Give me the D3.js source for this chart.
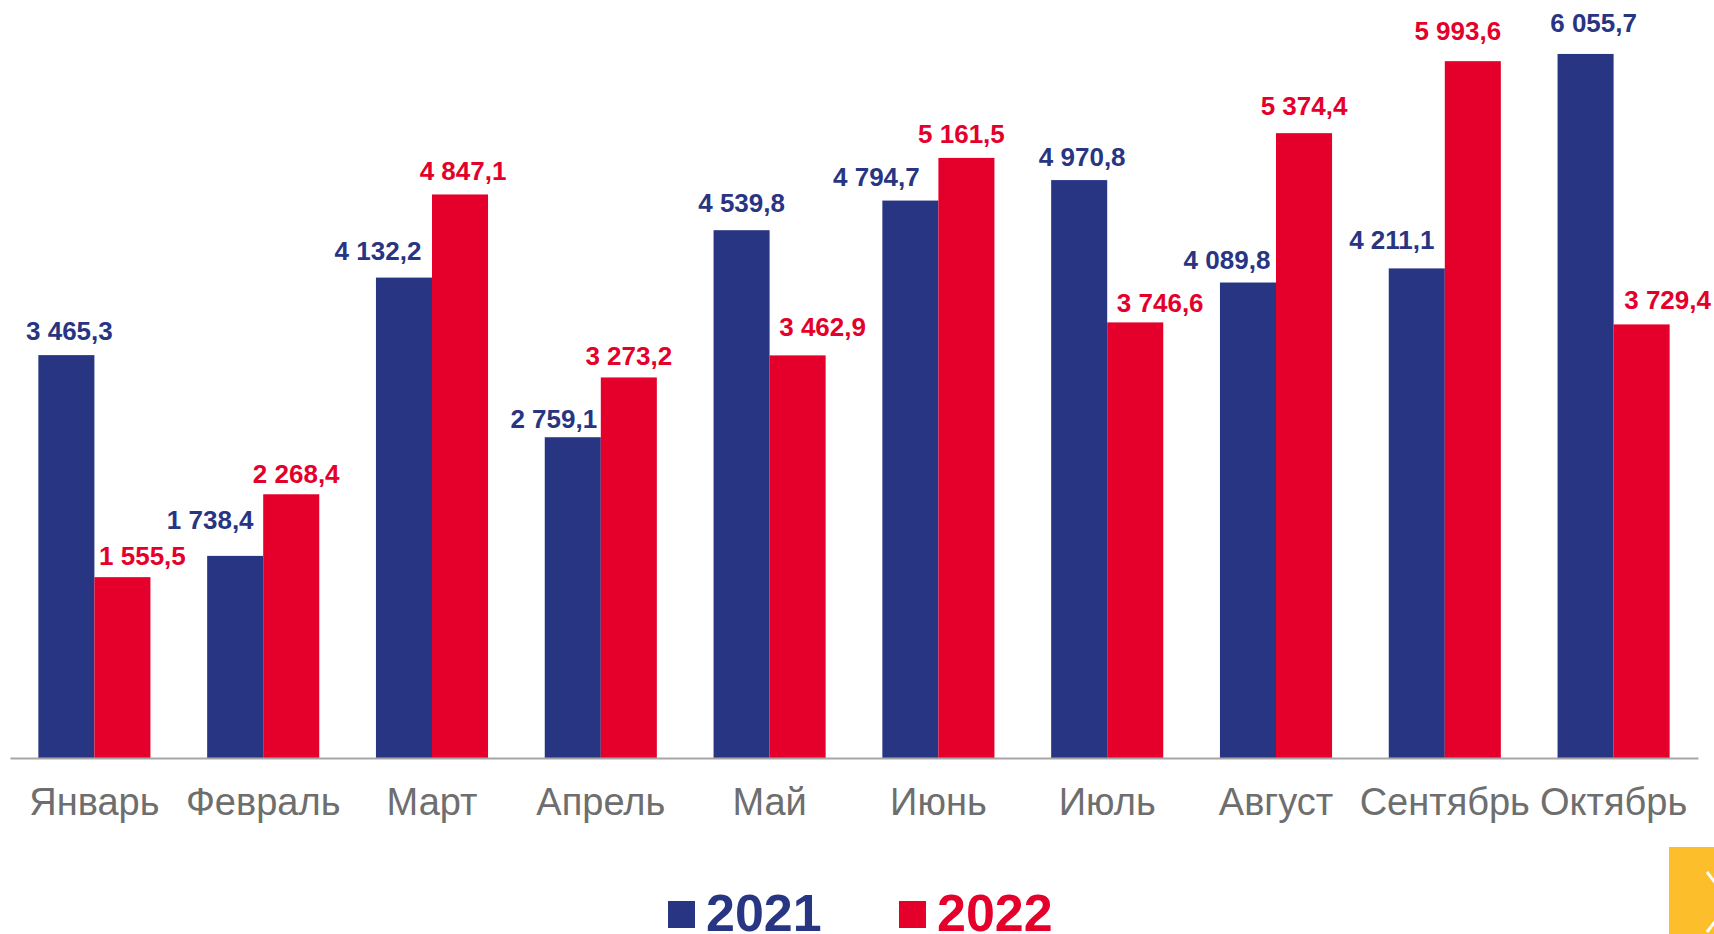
<!DOCTYPE html>
<html>
<head>
<meta charset="utf-8">
<script src="https://cdn.jsdelivr.net/npm/d3@7"></script>
<style>
  body { margin: 0; background: #fff; }
  svg { display: block; font-family: "Liberation Sans", Arial, sans-serif; }
</style>
</head>
<body>
<svg width="1714" height="934"></svg>
<script>
var months = ["Январь","Февраль","Март","Апрель","Май","Июнь","Июль","Август","Сентябрь","Октябрь"];
var years = ["2021","2022"];
var values2021 = [3465.3,1738.4,4132.2,2759.1,4539.8,4794.7,4970.8,4089.8,4211.1,6055.7];
var values2022 = [1555.5,2268.4,4847.1,3273.2,3462.9,5161.5,3746.6,5374.4,5993.6,3729.4];

// label nudges (px), the labels in the original were moved by hand
var nudgeX2021 = [3,-25,-26,-19,0,-34,3,-21,-25,8];
var nudgeX2022 = [20,5,3,0,25,-5,25,0,-15,26];
var gap2021 = [15,27,18,9,18,15,14,14,19,22];
var gap2022 = [12,11,14,12,19,15,10,18,21,15];

var colors = {"2021": "#283583", "2022": "#e4002b"};

var svg = d3.select("svg");

var x = d3.scaleBand()
    .domain(months)
    .range([10, 1698])
    .paddingInner(0.336)
    .paddingOuter(0.168);

var x1 = d3.scaleBand()
    .domain(years)
    .range([0, x.bandwidth()]);

var y = d3.scaleLinear()
    .domain([0, 6500])
    .range([758, 2.3]);

var rows = months.map(function(m, i){
  return [
    {month: m, year: "2021", value: values2021[i], dx: nudgeX2021[i], gap: gap2021[i]},
    {month: m, year: "2022", value: values2022[i], dx: nudgeX2022[i], gap: gap2022[i]}
  ];
});

var groups = svg.append("g")
  .selectAll("g")
  .data(rows)
  .enter().append("g")
    .attr("transform", function(d){ return "translate(" + x(d[0].month) + ",0)"; });

groups.selectAll("rect")
  .data(function(d){ return d; })
  .enter().append("rect")
    .attr("x", function(d){ return x1(d.year); })
    .attr("y", function(d){ return y(d.value); })
    .attr("width", x1.bandwidth())
    .attr("height", function(d){ return y(0) - y(d.value); })
    .attr("fill", function(d){ return colors[d.year]; });

groups.selectAll("text")
  .data(function(d){ return d; })
  .enter().append("text")
    .attr("x", function(d){ return x1(d.year) + x1.bandwidth() / 2 + d.dx; })
    .attr("y", function(d){ return y(d.value) - d.gap; })
    .attr("text-anchor", "middle")
    .style("font-size", "26px")
    .style("font-weight", "bold")
    .style("fill", function(d){ return colors[d.year]; })
    .text(function(d){ return d3.format(",.1f")(d.value).replace(",", " ").replace(".", ","); });

// axis
var axis = svg.append("g")
    .attr("transform", "translate(0," + y(0) + ")")
    .call(d3.axisBottom(x).tickSize(0).tickSizeOuter(0));

axis.select(".domain")
    .attr("stroke", "#a6a6a6")
    .attr("stroke-width", 2);

axis.selectAll("text")
    .attr("dy", null)
    .attr("y", 57)
    .style("font-size", "38px")
    .style("font-family", "'Liberation Sans', Arial, sans-serif")
    .style("fill", "#6e6e6e");

// legend
var legend = svg.append("g")
  .selectAll("g")
  .data(years)
  .enter().append("g")
    .attr("transform", function(d, i){ return "translate(" + (668 + i * 231) + ",0)"; });

legend.append("rect")
    .attr("x", 0)
    .attr("y", 901)
    .attr("width", 27)
    .attr("height", 27)
    .attr("fill", function(d){ return colors[d]; });

legend.append("text")
    .attr("x", 38)
    .attr("y", 931)
    .style("font-size", "52px")
    .style("font-weight", "bold")
    .style("fill", function(d){ return colors[d]; })
    .text(function(d){ return d; });

// yellow corner button
svg.append("rect")
    .attr("x", 1669)
    .attr("y", 847)
    .attr("width", 45)
    .attr("height", 87)
    .attr("fill", "#fdbe2b");

svg.append("path")
    .attr("d", "M1707,872L1730,902L1707,932")
    .attr("fill", "none")
    .attr("stroke", "#fff")
    .attr("stroke-width", 3);
</script>
</body>
</html>
